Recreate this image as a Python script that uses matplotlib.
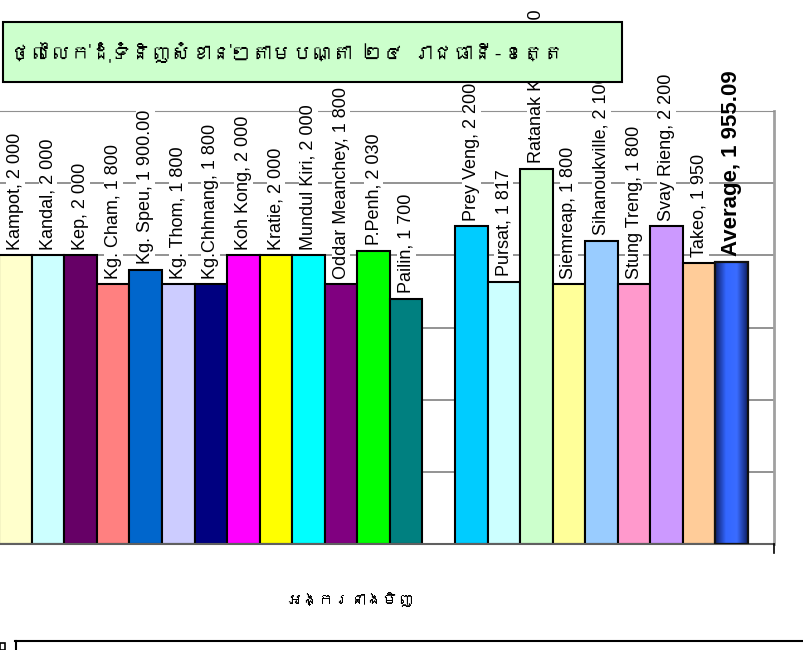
import numpy as np
import matplotlib.pyplot as plt
from matplotlib import font_manager
from matplotlib.patches import Rectangle
from matplotlib.lines import Line2D
from matplotlib.colors import LinearSegmentedColormap
from fontTools.ttLib import TTFont

provinces = ["Kampot", "Kandal", "Kep", "Kg. Cham", "Kg. Speu", "Kg. Thom",
             "Kg.Chhnang", "Koh Kong", "Kratie", "Mundul Kiri", "Oddar Meanchey",
             "P.Penh", "Pailin", "Preah Vihear", "Prey Veng", "Pursat",
             "Ratanak Kiri", "Siemreap", "Sihanoukville", "Stung Treng",
             "Svay Rieng", "Takeo", "Average"]
prices = [2000, 2000, 2000, 1800, 1900, 1800, 1800, 2000, 2000, 2000, 1800,
          2030, 1700, np.nan, 2200, 1817, 2600, 1800, 2100, 1800, 2200, 1950,
          1955.09]
value_text = ["2 000", "2 000", "2 000", "1 800", "1 900.00", "1 800", "1 800",
              "2 000", "2 000", "2 000", "1 800", "2 030", "1 700", "",
              "2 200", "1 817", "2 600", "1 800", "2 100", "1 800", "2 200",
              "1 950", "1 955.09"]
colors = ["#FFFFCC", "#CCFFFF", "#660066", "#FF8080", "#0066CC", "#CCCCFF",
          "#000080", "#FF00FF", "#FFFF00", "#00FFFF", "#800080", "#00FF00",
          "#008080", "white", "#00CCFF", "#CCFFFF", "#CCFFCC", "#FFFF99",
          "#99CCFF", "#FF99CC", "#CC99FF", "#FFCC99", "#3366FF"]

title = "ថ្លៃលក់ដុំទំនិញសំខាន់ៗតាមបណ្តា ២៤ រាជធានី-ខេត្ត"
xlabel = "អង្ករនាងមិញ"


def find_khmer_family():
    # cherche une police installée qui a les glyphes khmers
    for f in font_manager.fontManager.ttflist:
        try:
            cmap = TTFont(f.fname, fontNumber=0, lazy=True).getBestCmap()
        except Exception:
            continue
        if cmap and 0x1780 in cmap and 0x17D2 in cmap:
            return f.name
    return None


khmer = find_khmer_family()
families = ['Liberation Sans', 'DejaVu Sans']
khmer_families = ([khmer] if khmer else []) + families
plt.rcParams['font.family'] = families

fig = plt.figure(figsize=(8.04, 6.5), dpi=100)
ax = fig.add_axes([0, 106 / 650, 774 / 804, 433 / 650])

for i, (name, v) in enumerate(zip(provinces, prices)):
    if np.isnan(v):
        continue
    if name == "Average":
        # barre dégradée comme dans Excel
        cmap = LinearSegmentedColormap.from_list("avg", ["#0d1f66", "#3366FF", "#3a6cff", "#0d1f66"])
        ax.imshow(np.linspace(0, 1, 64).reshape(1, -1), cmap=cmap, aspect="auto",
                  extent=[i - 0.5, i + 0.5, 0, v], zorder=2)
        ax.bar(i, v, width=1.0, facecolor="none", edgecolor="#111111", linewidth=1.6, zorder=3)
        ax.annotate(f"{name}, {value_text[i]}", (i, v), xytext=(0, 4), textcoords="offset points",
                    rotation=90, ha="center", va="bottom", fontsize=16, fontweight="bold",
                    annotation_clip=False, zorder=4)
    else:
        ax.bar(i, v, width=1.0, color=colors[i], edgecolor="black", linewidth=1.5, zorder=2)
        ax.annotate(f"{name}, {value_text[i]}", (i, v), xytext=(0, 4), textcoords="offset points",
                    rotation=90, ha="center", va="bottom", fontsize=13,
                    bbox=dict(facecolor="white", edgecolor="none", pad=0.6),
                    annotation_clip=False, zorder=4)

ax.set_xlim(-0.477, 23.3)
ax.set_ylim(0, 3000)
ax.set_yticks(np.arange(0, 3001, 500))
ax.grid(axis="y", color="#808080", linewidth=1.2, zorder=0)
ax.set_axisbelow(True)
ax.set_xticks([])
ax.tick_params(axis="y", left=False, labelleft=False)
ax.spines["left"].set_visible(False)
ax.spines["top"].set_color("#909090")
ax.spines["right"].set_color("#A0A0A0")
ax.spines["right"].set_linewidth(2)
ax.spines["bottom"].set_color("#606060")
ax.spines["bottom"].set_linewidth(1.5)

# petite graduation sous le coin droit
fig.add_artist(Line2D([774 / 804, 774 / 804], [1 - 544 / 650, 1 - 553 / 650],
                      color="black", linewidth=1.2))

# cadre du titre
fig.add_artist(Rectangle((3 / 804, 1 - 82 / 650), 619 / 804, 60 / 650,
                         facecolor="#CCFFCC", edgecolor="black", linewidth=1.5,
                         transform=fig.transFigure, zorder=5))
fig.text(10 / 804, 1 - 52 / 650, title, fontsize=14.5, fontweight="bold",
         family=khmer_families, ha="left", va="center", zorder=6)

fig.text(350 / 804, 1 - 600 / 650, xlabel, fontsize=11.5, fontweight="bold",
         family=khmer_families, ha="center", va="center")

# début de l'objet suivant en bas de page
fig.add_artist(Line2D([15 / 804, 1], [1 - 641 / 650, 1 - 641 / 650], color="black", linewidth=1.5))
fig.add_artist(Line2D([16 / 804, 16 / 804], [1 - 641 / 650, 0], color="black", linewidth=1.5))
fig.add_artist(Rectangle((0, 0), 5 / 804, 7 / 650, facecolor="white", edgecolor="black",
                         linewidth=1.2, transform=fig.transFigure))

fig.savefig("out.png", dpi=100)
